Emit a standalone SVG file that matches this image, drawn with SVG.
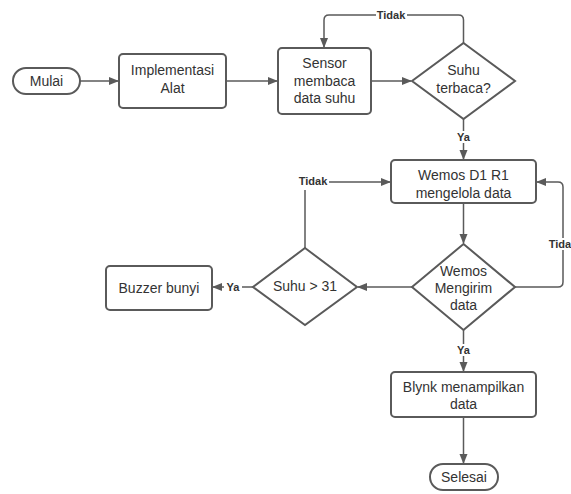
<svg xmlns="http://www.w3.org/2000/svg" width="571" height="494" viewBox="0 0 571 494">
<defs>
<marker id="ah" markerUnits="userSpaceOnUse" markerWidth="10" markerHeight="10" viewBox="0 0 10 10" refX="9" refY="5" orient="auto">
<path d="M0,1 L10,5 L0,9 Z" fill="#5a5a5a"/>
</marker>
</defs>
<style>
.n{fill:#fff;stroke:#5a5a5a;stroke-width:2}
.t{font-family:"Liberation Sans",Arial,sans-serif;font-size:14px;fill:#333;text-anchor:middle}
.c{fill:none;stroke:#5a5a5a;stroke-width:1.5}
.l{font-family:"Liberation Sans",Arial,sans-serif;font-size:11px;font-weight:bold;fill:#333;text-anchor:middle}
.lb{fill:#fff}
</style>
<rect width="571" height="494" fill="#fff"/>
<g id="connectors">
<path class="c" d="M80,81 H118" marker-end="url(#ah)"/>
<path class="c" d="M226,81 H277" marker-end="url(#ah)"/>
<path class="c" d="M371,81 H411" marker-end="url(#ah)"/>
<path class="c" d="M463.5,43 V20 Q463.5,15 458.5,15 H329 Q324,15 324,20 V47" marker-end="url(#ah)"/>
<path class="c" d="M463.5,119 V159" marker-end="url(#ah)"/>
<path class="c" d="M463.5,203 V243" marker-end="url(#ah)"/>
<path class="c" d="M515,287 H558 Q563,287 563,282 V187 Q563,182 558,182 H537" marker-end="url(#ah)"/>
<path class="c" d="M412,287 H358" marker-end="url(#ah)"/>
<path class="c" d="M305,248 V182 H390" marker-end="url(#ah)"/>
<path class="c" d="M253,287 H213" marker-end="url(#ah)"/>
<path class="c" d="M463.5,330 V371" marker-end="url(#ah)"/>
<path class="c" d="M463.5,417 V463" marker-end="url(#ah)"/>
<rect class="lb" x="376" y="9" width="31" height="12"/>
<text class="l" x="391" y="19">Tidak</text>
<rect class="lb" x="455" y="131" width="17" height="12"/>
<text class="l" x="463.5" y="141">Ya</text>
<rect class="lb" x="548" y="238" width="23" height="12"/>
<text class="l" x="560" y="248">Tida</text>
<rect class="lb" x="298" y="176" width="31" height="14"/>
<text class="l" x="313" y="185">Tidak</text>
<rect class="lb" x="224" y="281" width="18" height="12"/>
<text class="l" x="233" y="291">Ya</text>
<rect class="lb" x="455" y="344" width="17" height="12"/>
<text class="l" x="463.5" y="354">Ya</text>
</g>
<g id="mulai">
<rect class="n" x="13" y="68" width="67" height="26" rx="13"/>
<text class="t" x="46.5" y="86">Mulai</text>
</g>
<g id="implementasi">
<rect class="n" x="119" y="54" width="107" height="54" rx="4"/>
<text class="t" x="172.5" y="75">Implementasi</text>
<text class="t" x="172.5" y="93">Alat</text>
</g>
<g id="sensor">
<rect class="n" x="278" y="48" width="93" height="66" rx="4"/>
<text class="t" x="324.5" y="68">Sensor</text>
<text class="t" x="324.5" y="86">membaca</text>
<text class="t" x="324.5" y="103">data suhu</text>
</g>
<g id="suhu-terbaca">
<path class="n" d="M463.5,43 L515,81 L463.5,119 L412,81 Z"/>
<text class="t" x="463.5" y="75">Suhu</text>
<text class="t" x="463.5" y="93">terbaca?</text>
</g>
<g id="wemos">
<rect class="n" x="391" y="160" width="145" height="43" rx="4"/>
<text class="t" x="463.5" y="180">Wemos D1 R1</text>
<text class="t" x="463.5" y="198">mengelola data</text>
</g>
<g id="wemos-mengirim">
<path class="n" d="M463.5,244 L515,287 L463.5,330 L412,287 Z"/>
<text class="t" x="463.5" y="276">Wemos</text>
<text class="t" x="463.5" y="293">Mengirim</text>
<text class="t" x="463.5" y="310">data</text>
</g>
<g id="suhu31">
<path class="n" d="M305,248 L357,287 L305,325 L253,287 Z"/>
<text class="t" x="305" y="291">Suhu &gt; 31</text>
</g>
<g id="buzzer">
<rect class="n" x="106" y="266" width="106" height="44" rx="4"/>
<text class="t" x="159" y="293">Buzzer bunyi</text>
</g>
<g id="blynk">
<rect class="n" x="391" y="372" width="145" height="45" rx="4"/>
<text class="t" x="463.5" y="392">Blynk menampilkan</text>
<text class="t" x="463.5" y="409">data</text>
</g>
<g id="selesai">
<rect class="n" x="430" y="464" width="68" height="26" rx="13"/>
<text class="t" x="464" y="482">Selesai</text>
</g>
</svg>
